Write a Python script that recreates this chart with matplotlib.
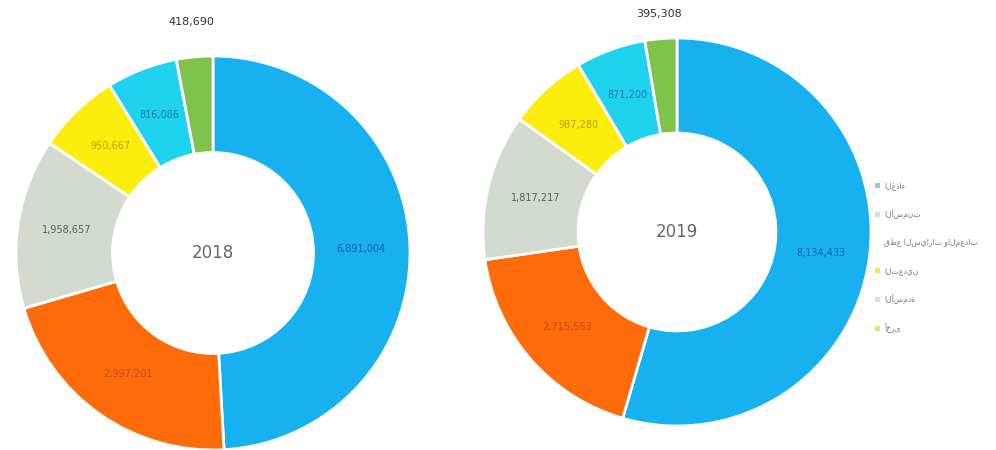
import numpy as np
import matplotlib.pyplot as plt
from matplotlib.patches import Patch

# Data
years = ["2018", "2019"]
values_2018 = [6891004, 2997201, 1958657, 950667, 816086, 418690]
values_2019 = [8134433, 2715563, 1817217, 987280, 871200, 395308]
legend_labels = ["الغذاء", "الأسمنت", "قطع السيارات والمعدات", "التعدين", "الأسمدة", "أخرى"]

colors = ['#17b1ef', '#fe6b0a', '#d3dbd0', '#fbed0c', '#1fd3ef', '#7fc24c']
label_colors = ['#1d5ea8', '#b8501a', '#5a5f5a', '#b3a21e', '#1a7aa0', '#555555']
legend_colors = ['#86d3cf', '#d9ded6', 'white', '#f1ec55', '#dedede', '#dbe978']

fig = plt.figure(figsize=(9.96, 4.5), dpi=100)

# (center x px, center y px, radius px, label radius for the small slice)
layouts = [(213, 253, 197, 1.18), (677, 232, 194, 1.13)]

for year, vals, (cx, cy, r, out_r) in zip(years, [values_2018, values_2019], layouts):
    ax = fig.add_axes([(cx - r) / 996, (450 - cy - r) / 450, 2 * r / 996, 2 * r / 450])
    wedges, _ = ax.pie(vals, colors=colors, startangle=90, counterclock=False,
                       radius=1.0, wedgeprops=dict(width=0.49, edgecolor='white', linewidth=2))
    ax.set_xlim(-1, 1)
    ax.set_ylim(-1, 1)
    ax.set_aspect('equal')
    ax.axis('off')
    for i, (w, v) in enumerate(zip(wedges, vals)):
        ang = np.deg2rad((w.theta1 + w.theta2) / 2)
        if i == len(vals) - 1:
            rr, col, fs = out_r, '#333333', 8
        else:
            rr, col, fs = 0.75, label_colors[i], 7
        ax.text(rr * np.cos(ang), rr * np.sin(ang), f"{v:,}", ha='center', va='center',
                fontsize=fs, color=col, clip_on=False)
    ax.text(0, 0, year, ha='center', va='center', fontsize=12, color='#666666')

handles = [Patch(facecolor=c, edgecolor='none') for c in legend_colors]
fig.legend(handles, legend_labels, loc='upper left', bbox_to_anchor=(872 / 996, 1 - 178 / 450),
           frameon=False, fontsize=5.5, labelcolor='#777777', handlelength=0.6, handleheight=0.6,
           labelspacing=2.5, handletextpad=0.6, borderaxespad=0)

plt.savefig('out.png', dpi=100)
